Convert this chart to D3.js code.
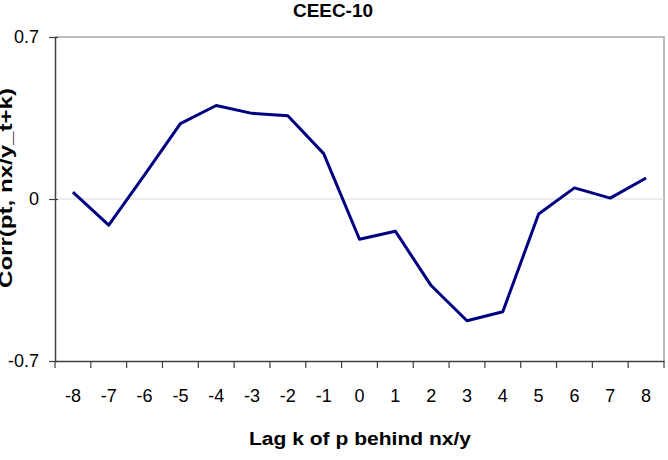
<!DOCTYPE html>
<html>
<head>
<meta charset="utf-8">
<script src="https://cdn.jsdelivr.net/npm/d3@7"></script>
<style>
  body { margin: 0; background: #fff; }
  svg { display: block; font-family: "Liberation Sans", Arial, sans-serif; }
</style>
</head>
<body>
<svg width="668" height="460"></svg>
<script>
// lag categories and correlations
var lags = ["-8","-7","-6","-5","-4","-3","-2","-1","0","1","2","3","4","5","6","7","8"];
var corr = [0.03, -0.113, 0.104, 0.326, 0.404, 0.37, 0.36, 0.196, -0.174, -0.139, -0.374, -0.526, -0.487, -0.065, 0.048, 0.004, 0.091];
var yTicks = [-0.7, 0, 0.7];
var yTickLabels = ["-0.7", "0", "0.7"];

var svg = d3.select("svg");
var mLeft = 55, mRight = 664, mTop = 37, mBottom = 361;

var x = d3.scaleBand().domain(lags).range([mLeft, mRight]).padding(0);
var y = d3.scaleLinear().domain([-0.7, 0.7]).range([mBottom, mTop]);

// plot frame (top + right in light gray)
svg.append("path")
  .attr("d", "M" + mLeft + "," + mTop + "H" + mRight + "V" + mBottom)
  .attr("fill", "none")
  .attr("stroke", "#a6a6a6")
  .attr("stroke-width", 1.5);

// zero gridline
svg.append("line")
  .attr("x1", mLeft).attr("x2", mRight)
  .attr("y1", y(0)).attr("y2", y(0))
  .attr("stroke", "#d9d9d9").attr("stroke-width", 1);

// y axis
var yAxis = d3.axisLeft(y).tickValues(yTicks)
  .tickFormat(function(d, i) { return yTickLabels[i]; })
  .tickSizeInner(6).tickSizeOuter(0).tickPadding(10);
var gy = svg.append("g").attr("transform", "translate(" + mLeft + ",0)").call(yAxis);
gy.select(".domain").attr("stroke", "#404040").attr("stroke-width", 1.5);
gy.selectAll(".tick line").attr("stroke", "#404040").attr("stroke-width", 1.2).attr("x2", -6).attr("x1", 3);
gy.selectAll(".tick text").attr("font-size", 18).attr("fill", "#000");

// x axis: ticks between categories, labels centred
var xAxis = d3.axisBottom(x).tickSize(0).tickPadding(28);
var gx = svg.append("g").attr("transform", "translate(0," + mBottom + ")").call(xAxis);
gx.select(".domain").attr("stroke", "#404040").attr("stroke-width", 1.5);
gx.selectAll(".tick text").attr("font-size", 18).attr("fill", "#000");
var bounds = lags.map(function(d) { return x(d); }).concat([mRight]);
gx.selectAll(".sep").data(bounds).enter().append("line")
  .attr("class", "sep")
  .attr("x1", function(d) { return d; }).attr("x2", function(d) { return d; })
  .attr("y1", 0).attr("y2", 7)
  .attr("stroke", "#404040").attr("stroke-width", 1.2);

// series line
var line = d3.line()
  .x(function(d, i) { return x(lags[i]) + x.bandwidth() / 2; })
  .y(function(d) { return y(d); });
svg.append("path")
  .datum(corr)
  .attr("d", line)
  .attr("fill", "none")
  .attr("stroke", "#000080")
  .attr("stroke-width", 3)
  .attr("stroke-linejoin", "round");

// titles
svg.append("text")
  .attr("x", 333).attr("y", 17)
  .attr("text-anchor", "middle")
  .attr("font-size", 18).attr("font-weight", "bold")
  .attr("textLength", 80).attr("lengthAdjust", "spacingAndGlyphs")
  .text("CEEC-10");

svg.append("text")
  .attr("x", 360).attr("y", 445)
  .attr("text-anchor", "middle")
  .attr("font-size", 18).attr("font-weight", "bold")
  .attr("textLength", 222).attr("lengthAdjust", "spacingAndGlyphs")
  .text("Lag k of p behind nx/y");

svg.append("text")
  .attr("transform", "translate(12,188) rotate(-90)")
  .attr("text-anchor", "middle")
  .attr("font-size", 18).attr("font-weight", "bold")
  .attr("textLength", 200).attr("lengthAdjust", "spacingAndGlyphs")
  .text("Corr(pt, nx/y_t+k)");
</script>
</body>
</html>
